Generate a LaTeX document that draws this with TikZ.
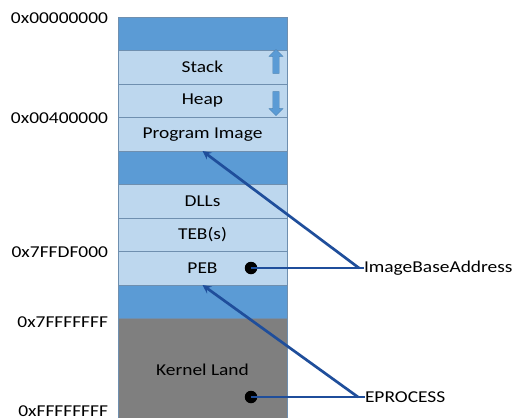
\documentclass[tikz,border=0pt]{standalone}
\usepackage{fontspec}
\setmainfont{Carlito}[FakeStretch=1.17]
\usepackage{xcolor}
\usetikzlibrary{shapes,arrows,positioning,fit,calc}

\definecolor{regdark}{HTML}{5B9BD5}
\definecolor{reglight}{HTML}{BDD7EE}
\definecolor{regedge}{HTML}{6F8FAF}
\definecolor{kernelgray}{HTML}{7F7F7F}
\definecolor{ptrblue}{HTML}{1F4E9B}

\begin{document}
\begin{tikzpicture}[
    x=1pt, y=-1pt,
    font=\fontsize{16.6}{19}\selectfont,
    every node/.style={inner sep=0pt, outer sep=0pt},
    region/.style={draw=regedge, line width=0.8pt, minimum width=169pt, minimum height=33.5pt},
    mapped/.style={region, fill=reglight},
    gap/.style={region, fill=regdark},
    addr/.style={anchor=east},
    growarrow/.style={single arrow, fill=regdark, draw=regdark!85!black, line width=0.3pt,
        minimum width=14pt, minimum height=24pt, single arrow head extend=2.5pt,
        single arrow head indent=0pt, inner sep=2pt},
    dot/.style={circle, fill=black, minimum size=12.5pt},
    pointer/.style={draw=ptrblue, line width=2.7pt, -stealth}
]
\clip (0,0) rectangle (518,417);
\useasboundingbox (0,0) rectangle (518,417);

% memory layout
\node[gap, anchor=north west] (top) at (118,17) {};
\node[mapped, below=0pt of top] (stack) {Stack};
\node[mapped, below=0pt of stack] (heap) {Heap};
\node[mapped, below=0pt of heap] (progimg) {Program Image};
\node[gap, below=0pt of progimg] (hole) {};
\node[mapped, below=0pt of hole] (dlls) {DLLs};
\node[mapped, below=0pt of dlls] (teb) {TEB(s)};
\node[mapped, below=0pt of teb] (peb) {PEB};
\node[gap, below=0pt of peb] (guard) {};
\node[region, fill=kernelgray, minimum height=102pt, below=0pt of guard] (kernel) {Kernel Land};

% grow directions
\node[growarrow, rotate=90] (stackup) at (276,63) {};
\node[growarrow, rotate=-90] (heapdown) at (276,102) {};

% addresses
\node[addr] (a0) at (108,18) {0x00000000};
\node[addr] (a1) at (108,118) {0x00400000};
\node[addr] (a2) at (108,252) {0x7FFDF000};
\node[addr] (a3) at (108,322) {0x7FFFFFFF};
\node[addr] (a4) at (108,411) {0xFFFFFFFF};

% pointers
\node[dot] (pebdot) at (251,268) {};
\node[dot] (epdot) at (251,397) {};
\node[anchor=west] (iba) at (364,268) {ImageBaseAddress};
\node[anchor=west] (eproc) at (365,397) {EPROCESS};
\coordinate (ibabend) at (359,268);
\coordinate (epbend) at (358,397);

\draw[draw=ptrblue, line width=2.7pt] (pebdot.center) -- (ibabend) -- (iba.west);
\draw[pointer] (ibabend) -- (progimg.south);
\draw[draw=ptrblue, line width=2.7pt] (epdot.center) -- (epbend) -- (eproc.west);
\draw[pointer] (epbend) -- (peb.south);
\end{tikzpicture}
\end{document}
